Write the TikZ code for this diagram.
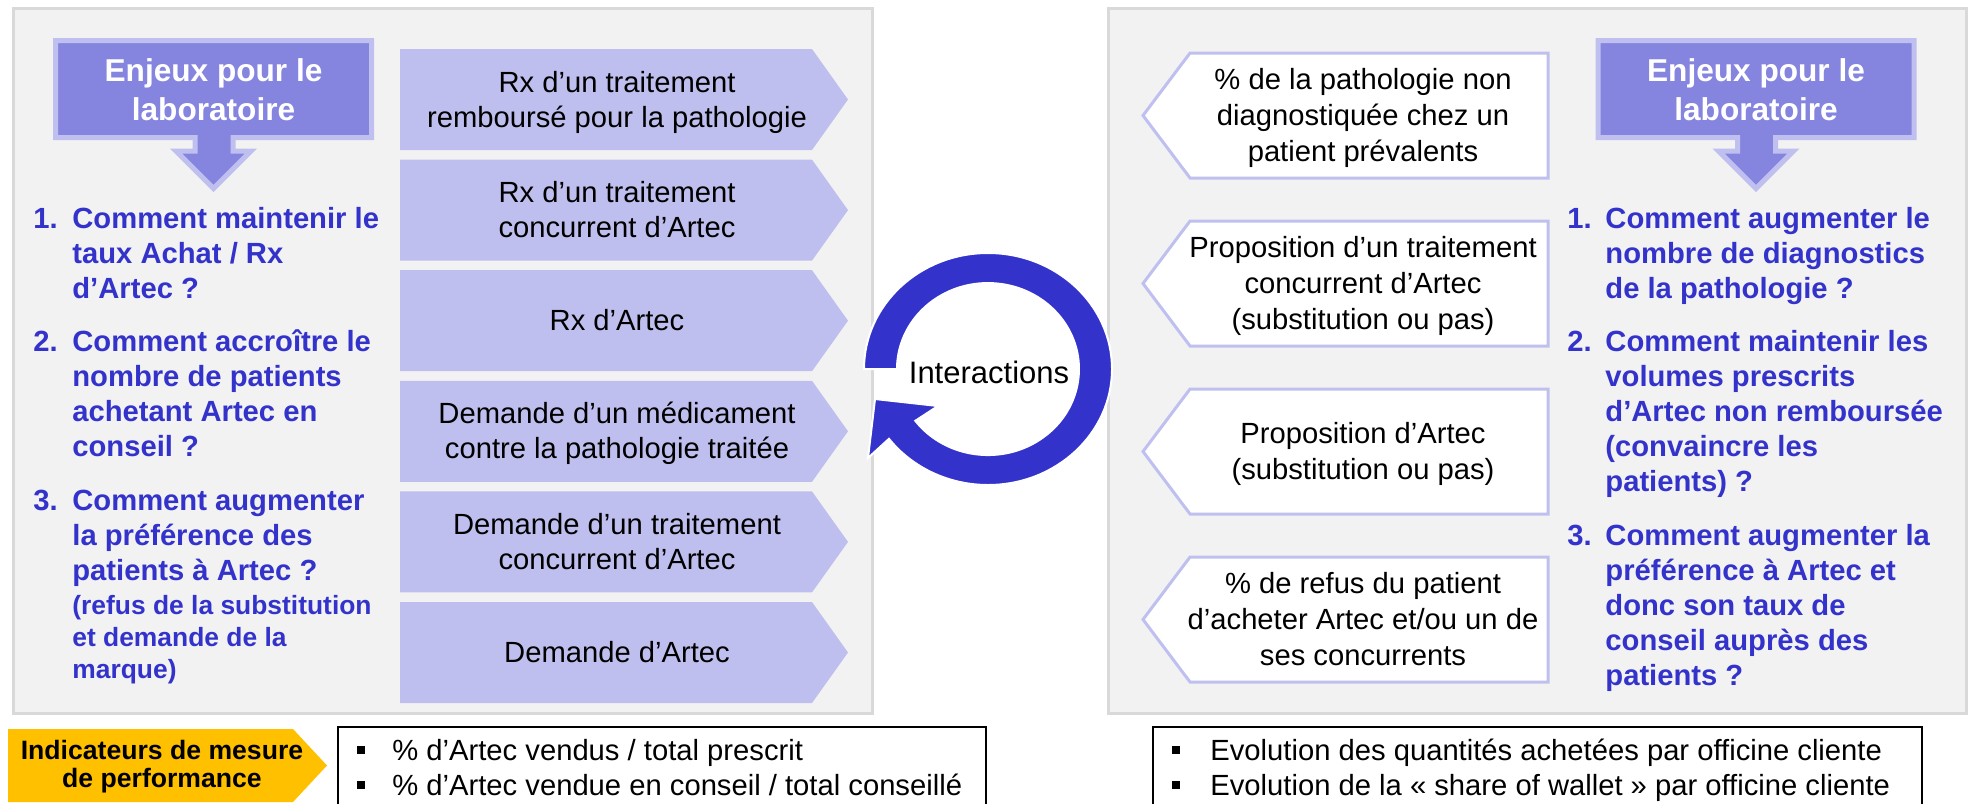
\documentclass[tikz,border=0pt]{standalone}
\usepackage{fontspec}
\setmainfont{Liberation Sans}

\definecolor{panelfill}{HTML}{F2F2F2}
\definecolor{panelline}{HTML}{D9D9D9}
\definecolor{chevfill}{HTML}{BFBFEF}
\definecolor{calloutfill}{HTML}{8585E0}
\definecolor{calloutline}{HTML}{C0C0F0}
\definecolor{issueblue}{HTML}{3333CC}
\definecolor{kpiyellow}{HTML}{FFC000}

% multi-line text blocks: first baseline on the anchor (left) / centred (middle)
\newcommand{\leftblock}[1]{\begin{tabular}[t]{@{}l@{}}#1\end{tabular}}
\newcommand{\centreblock}[1]{\begin{tabular}{@{}c@{}}#1\end{tabular}}
% small square bullet followed by a fixed indent
\newcommand{\sqbullet}[1]{\makebox[#1][l]{\raisebox{3pt}{\rule{4pt}{4pt}}}}

\begin{document}
\begin{tikzpicture}[x=0.5pt,y=-0.5pt,
  panel/.style={fill=panelfill,draw=panelline,line width=1.5pt},
  stepfill/.style={fill=chevfill},
  outcome/.style={fill=white,draw=calloutline,line width=1.5pt},
  callout/.style={fill=calloutfill,draw=calloutline,line width=2.5pt,line join=miter},
  plain/.style={inner sep=0pt,font=\fontsize{14.6}{17.5}\selectfont},
  widetext/.style={inner sep=0pt,font=\fontsize{14.6}{18}\selectfont},
  issue/.style={inner sep=0pt,anchor=base west,text=issueblue,
                font=\bfseries\fontsize{14.6}{17.5}\selectfont},
  issuenote/.style={inner sep=0pt,anchor=base west,text=issueblue,
                font=\bfseries\fontsize{13.2}{16}\selectfont},
  calloutlabel/.style={inner sep=0pt,text=white,
                font=\bfseries\fontsize{15.8}{19.3}\selectfont},
  kpibox/.style={draw=black,line width=1pt},
]
\useasboundingbox (0,0) rectangle (1968,803);

% ---------- background panels ----------
\path[panel] (13,8) rectangle (872,713);
\path[panel] (1108,8) rectangle (1966.5,713);

% ---------- "Enjeux pour le laboratoire" callouts ----------
\path[callout] (55.5,40.5) -- (371.5,40.5) -- (371.5,137.5) -- (233,137.5)
  -- (233,151) -- (251,151) -- (213.5,188.5) -- (176,151) -- (195,151)
  -- (195,137.5) -- (55.5,137.5) -- cycle;
\node[calloutlabel] (titleL) at (213.5,93.5) {\centreblock{Enjeux pour le\\laboratoire}};

\begin{scope}[shift={(1542.5,0)}]
\path[callout] (55.5,40.5) -- (371.5,40.5) -- (371.5,137.5) -- (233,137.5)
  -- (233,151) -- (251,151) -- (213.5,188.5) -- (176,151) -- (195,151)
  -- (195,137.5) -- (55.5,137.5) -- cycle;
\node[calloutlabel] (titleR) at (213.5,93.5) {\centreblock{Enjeux pour le\\laboratoire}};
\end{scope}

% ---------- left issues list ----------
\node[issue] (numL1) at (33,228) {1.};
\node[issue] (issueL1) at (72,228) {\leftblock{Comment maintenir le\\taux Achat / Rx\\d’Artec ?}};
\node[issue] (numL2) at (33,351) {2.};
\node[issue] (issueL2) at (72,351) {\leftblock{Comment accroître le\\nombre de patients\\achetant Artec en\\conseil ?}};
\node[issue] (numL3) at (33,510) {3.};
\node[issue] (issueL3) at (72,510) {\leftblock{Comment augmenter\\la préférence des\\patients à Artec ?}};
\node[issuenote] (noteL3) at (72,614) {\leftblock{(refus de la substitution\\et demande de la\\marque)}};

% ---------- right issues list ----------
\node[issue] (numR1) at (1567,228) {1.};
\node[issue] (issueR1) at (1605,228) {\leftblock{Comment augmenter le\\nombre de diagnostics\\de la pathologie ?}};
\node[issue] (numR2) at (1567,351) {2.};
\node[issue] (issueR2) at (1605,351) {\leftblock{Comment maintenir les\\volumes prescrits\\d’Artec non remboursée\\(convaincre les\\patients) ?}};
\node[issue] (numR3) at (1567,545) {3.};
\node[issue] (issueR3) at (1605,545) {\leftblock{Comment augmenter la\\préférence à Artec et\\donc son taux de\\conseil auprès des\\patients ?}};

% ---------- left chevrons (events) ----------
\foreach \txt [count=\k from 0] in {
  {Rx d’un traitement\\remboursé pour la pathologie},
  {Rx d’un traitement\\concurrent d’Artec},
  {Rx d’Artec},
  {Demande d’un médicament\\contre la pathologie traitée},
  {Demande d’un traitement\\concurrent d’Artec},
  {Demande d’Artec}} {
  \pgfmathsetmacro{\ytop}{49+110.6*\k}
  \pgfmathsetmacro{\ybot}{\ytop+101}
  \pgfmathsetmacro{\ymid}{\ytop+50.5}
  \path[stepfill] (400,\ytop) -- (812,\ytop) -- (848,\ymid) -- (812,\ybot)
    -- (400,\ybot) -- cycle;
  \node[plain] (event\k) at (617,{\ymid+3}) {\centreblock{\txt}};
}

% ---------- right chevrons (outcomes) ----------
\foreach \txt [count=\k from 0] in {
  {\% de la pathologie non\\diagnostiquée chez un\\patient prévalents},
  {Proposition d’un traitement\\concurrent d’Artec\\(substitution ou pas)},
  {Proposition d’Artec\\(substitution ou pas)},
  {\% de refus du patient\\d’acheter Artec et/ou un de\\ses concurrents}} {
  \pgfmathsetmacro{\ytop}{53+168*\k}
  \pgfmathsetmacro{\ybot}{\ytop+125}
  \pgfmathsetmacro{\ymid}{\ytop+62.5}
  \path[outcome] (1190,\ytop) -- (1548,\ytop) -- (1548,\ybot) -- (1190,\ybot)
    -- (1143,\ymid) -- cycle;
  \node[widetext] (outcome\k) at (1363,{\ymid+3}) {\centreblock{\txt}};
}

% ---------- circular "Interactions" arrow ----------
\path[fill=issueblue,draw=white,line width=1pt]
  (864,369) arc[start angle=180,end angle=503,x radius=124,y radius=116]
  -- (868,458) -- (875,399) -- (938,406) -- (915.3,420.8)
  arc[start angle=503,end angle=180,x radius=91,y radius=86] -- cycle;
\node[inner sep=0pt,font=\fontsize{15.5}{18}\selectfont] (interactions) at (989,372) {Interactions};

% ---------- performance indicators ----------
\path[fill=kpiyellow] (8,729) -- (293,729) -- (327,765.5) -- (293,802) -- (8,802) -- cycle;
\node[inner sep=0pt,font=\bfseries\fontsize{13.3}{14}\selectfont] (kpi) at (162,768)
  {\centreblock{Indicateurs de mesure\\de performance}};

\path[kpibox] (338,727) rectangle (986,808);
\node[plain,anchor=base west] (kpiL1) at (357,760) {\sqbullet{17.5pt}\% d’Artec vendus / total prescrit};
\node[plain,anchor=base west] (kpiL2) at (357,795) {\sqbullet{17.5pt}\% d’Artec vendue en conseil / total conseillé};

\path[kpibox] (1153,727) rectangle (1922,808);
\node[plain,anchor=base west] (kpiR1) at (1172,760) {\sqbullet{19pt}Evolution des quantités achetées par officine cliente};
\node[plain,anchor=base west] (kpiR2) at (1172,795) {\sqbullet{19pt}Evolution de la « share of wallet » par officine cliente};
\end{tikzpicture}
\end{document}
